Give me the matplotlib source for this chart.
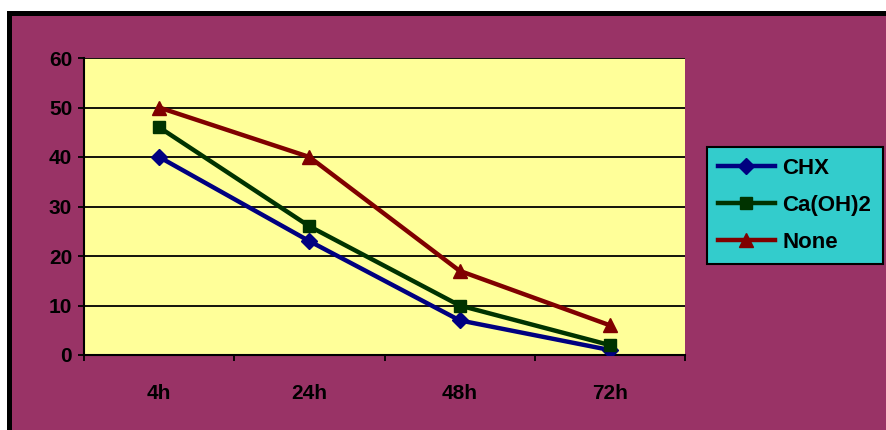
import matplotlib
matplotlib.use("Agg")
import matplotlib.pyplot as plt
from matplotlib.patches import Rectangle

# data
times = ["4h", "24h", "48h", "72h"]
chx = [40, 23, 7, 1]
caoh2 = [46, 26, 10, 2]
none = [50, 40, 17, 6]

W, H = 886, 430
plt.rcParams['font.family'] = ['Liberation Sans', 'DejaVu Sans']

fig = plt.figure(figsize=(W / 100, H / 100), dpi=100, facecolor="white")

# outer chart frame (cut off on right and bottom)
frame = Rectangle((8.5 / W, -0.2), 1.2, 1.2 - 12.5 / H,
                  transform=fig.transFigure, facecolor="#993366",
                  edgecolor="black", lw=3.6, zorder=-10)
fig.patches.append(frame)

ax = fig.add_axes([84 / W, 1 - 355 / H, (685 - 84) / W, (355 - 58) / H])
ax.set_facecolor("#FFFF99")

x = list(range(len(times)))
ax.plot(x, chx, color="#000080", lw=3.2, marker="D", ms=8, label="CHX", zorder=3)
ax.plot(x, caoh2, color="#003300", lw=3.2, marker="s", ms=8.5, label="Ca(OH)2", zorder=3)
ax.plot(x, none, color="#800000", lw=3.2, marker="^", ms=10, label="None", zorder=3)

ax.set_xlim(-0.5, len(times) - 0.5)
ax.set_ylim(0, 60)
ax.set_yticks(range(0, 61, 10))
ax.yaxis.grid(True, color="black", lw=1.3)
ax.set_axisbelow(True)

ax.set_xticks([i - 0.5 for i in range(len(times) + 1)])
ax.set_xticklabels([])
ax.set_xticks(x, minor=True)
ax.set_xticklabels(times, minor=True)
ax.tick_params(axis="x", which="minor", length=0, pad=21, labelsize=15)
ax.tick_params(axis="x", which="major", length=4.5, width=1.3, direction="out")
ax.tick_params(axis="y", length=4.5, width=1.3, direction="out", labelsize=15, pad=4)
for lab in ax.get_xticklabels(minor=True) + ax.get_yticklabels():
    lab.set_fontweight("bold")

for side in ["top", "right"]:
    ax.spines[side].set_visible(False)
ax.spines["left"].set_linewidth(1.5)
ax.spines["bottom"].set_linewidth(1.5)

leg = ax.legend(loc="upper left", bbox_to_anchor=(707 / W, 1 - 147 / H, 177 / W, 0.0),
                bbox_transform=fig.transFigure, frameon=True, fancybox=False,
                facecolor="#33CCCC", edgecolor="black", framealpha=1,
                prop={"weight": "bold", "size": 16}, handlelength=2.55,
                labelspacing=0.72, borderpad=0.5, handletextpad=0.35,
                borderaxespad=0)
leg.get_frame().set_linewidth(1.5)

fig.savefig("out.png", dpi=100, facecolor=fig.get_facecolor())
